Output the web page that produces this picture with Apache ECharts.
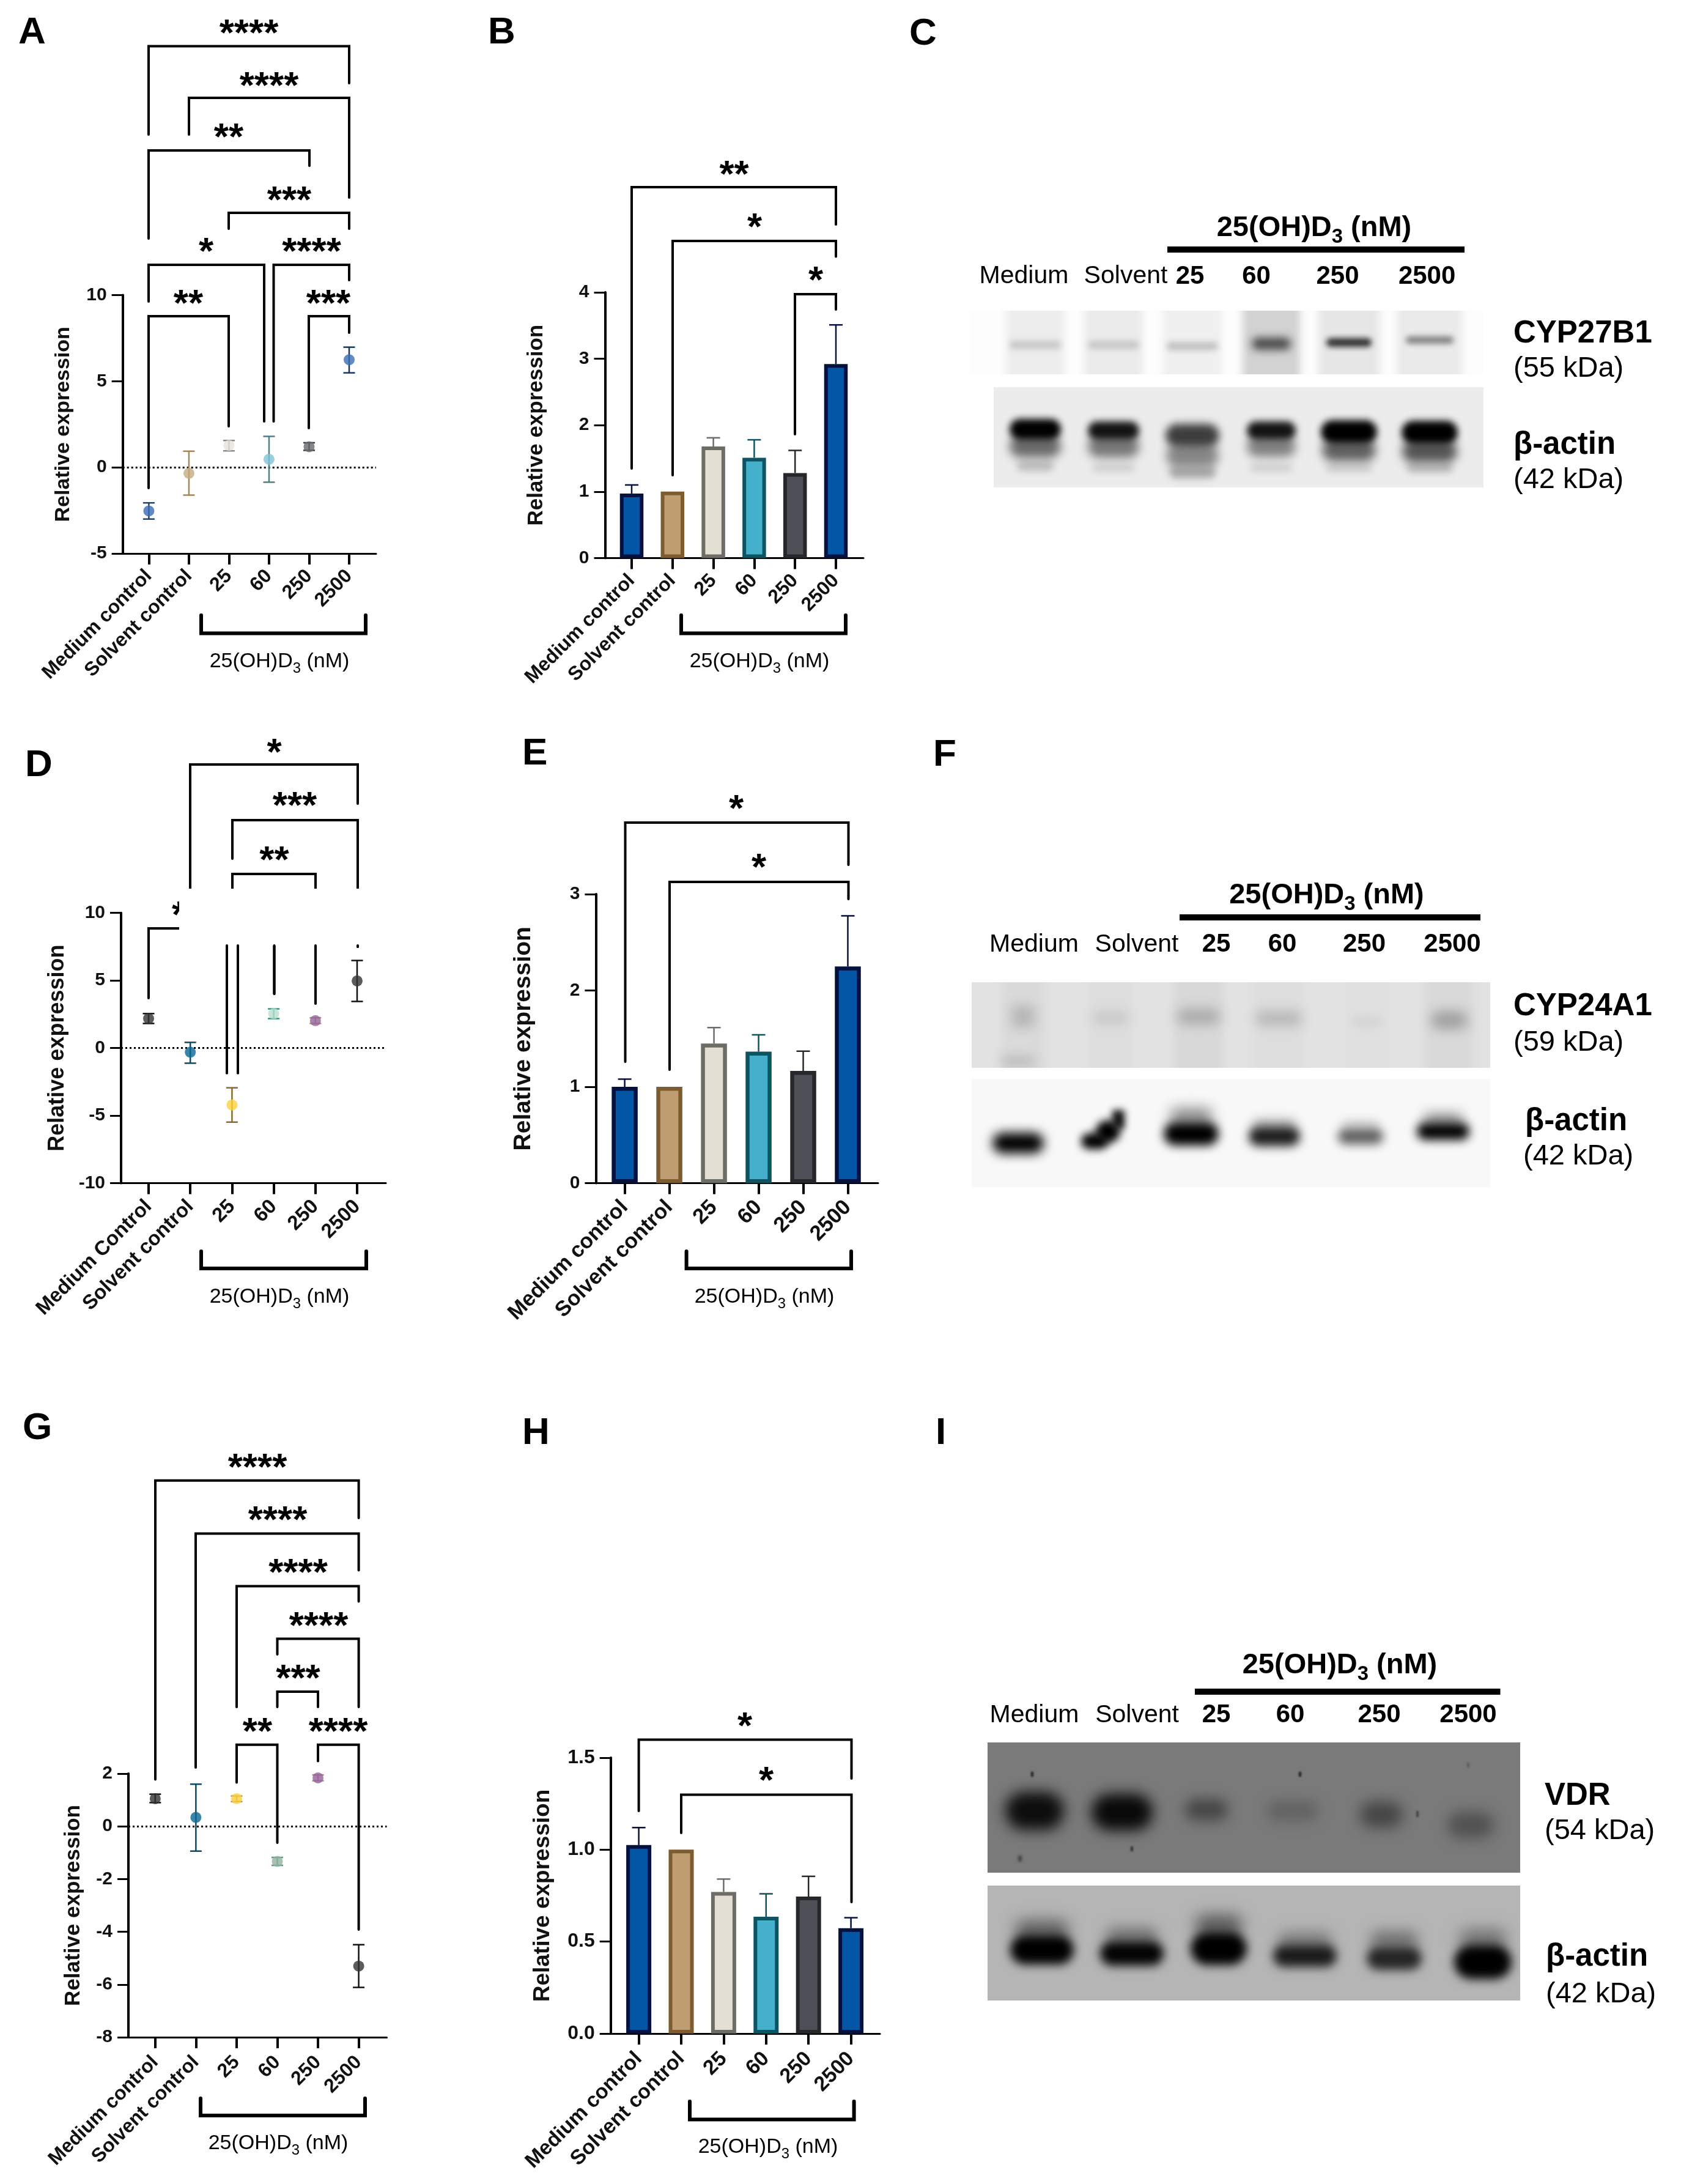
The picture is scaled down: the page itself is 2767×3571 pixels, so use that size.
<!DOCTYPE html>
<html>
<head>
<meta charset="utf-8">
<title>25(OH)D3 panels</title>
<script src="https://cdn.jsdelivr.net/npm/echarts@6/dist/echarts.min.js"></script>
<style>
  html, body { margin: 0; padding: 0; background: #fff; }
  #chart { width: 2767px; height: 3571px; }
</style>
</head>
<body>
<div id="chart"></div>
<script>
  var FONT = '"Liberation Sans", Arial, sans-serif';

  // chart values
  var categories = ['Medium control', 'Solvent control', '25', '60', '250', '2500'];
  var categoriesD = ['Medium Control', 'Solvent control', '25', '60', '250', '2500'];

  var pointsA = [-2.53, -0.34, 1.28, 0.47, 1.2, 6.25];
  var errHighA = [-2.06, 0.94, 1.56, 1.8, 1.43, 6.98];
  var errLowA = [-3.0, -1.61, 0.96, -0.86, 0.99, 5.49];

  var pointsD = [2.18, -0.3, -4.21, 2.55, 2.03, 4.97];
  var errHighD = [2.55, 0.42, -2.94, 2.9, 2.24, 6.48];
  var errLowD = [1.82, -1.12, -5.48, 2.18, 1.82, 3.45];

  var pointsG = [1.05, 0.34, 1.05, -1.33, 1.84, -5.3];
  var errHighG = [1.22, 1.6, 1.15, -1.18, 1.95, -4.49];
  var errLowG = [0.9, -0.94, 0.94, -1.48, 1.73, -6.11];

  var barsB = [0.97, 1.0, 1.68, 1.51, 1.28, 2.92];
  var errHighB = [1.1, null, 1.81, 1.78, 1.62, 3.51];

  var barsE = [1.0, 1.0, 1.45, 1.365, 1.165, 2.25];
  var errHighE = [1.08, null, 1.615, 1.54, 1.37, 2.775];

  var barsH = [1.025, 1.0, 0.77, 0.635, 0.745, 0.573];
  var errHighH = [1.12, null, 0.84, 0.76, 0.855, 0.63];

  var ticksA = { min: -5, max: 10, interval: 5 };
  var ticksB = { min: 0, max: 4, interval: 1 };
  var ticksD = { min: -10, max: 10, interval: 5 };
  var ticksE = { min: 0, max: 3, interval: 1 };
  var ticksG = { min: -8, max: 2, interval: 2 };
  var ticksH = { min: 0, max: 1.5, interval: 0.5 };

  // colours
  var barFill = ['#0355a5', '#c09e72', '#e3dfd3', '#45b0cb', '#4d5157', '#0355a5'];
  var barEdge = ['#051240', '#7d5c30', '#6e6c66', '#0e5361', '#25272a', '#051240'];
  var dotFillA = ['#3a6db5', '#c4ab7e', '#e5e2d8', '#7fc3d6', '#666a6e', '#3a6db5'];
  var dotEdgeA = ['#23406f', '#a08858', '#888888', '#4f7f88', '#3a3d40', '#1c3560'];
  var dotFillD = ['#333333', '#0a6796', '#fdd13a', '#b8dfca', '#9463a0', '#333333'];
  var dotEdgeD = ['#111111', '#0c4a64', '#8a6a2f', '#3a8f80', '#b09060', '#111111'];
  var dotFillG = ['#333333', '#0a6796', '#fdd13a', '#8fb3a0', '#9463a0', '#333333'];
  var dotEdgeG = ['#111111', '#0c4a64', '#b09060', '#6f9080', '#b09060', '#111111'];

  // panel frames in page pixels: axis x, axis end, top tick, bottom, first and last category
  var frames = [
    { id: 'A', kind: 'dot', x0: 200.7, x1: 615, top: 482.6, bottom: 905, c0: 243.4, c5: 571, nameX: 102, nameSize: 34, catSize: 32, catMargin: 32, cats: categories, vals: pointsA, hi: errHighA, lo: errLowA, ticks: ticksA, fill: dotFillA, edge: dotEdgeA },
    { id: 'B', kind: 'bar', x0: 989.5, x1: 1412, top: 478, bottom: 912.4, c0: 1033, c5: 1367, nameX: 876, nameSize: 35, catSize: 32, catMargin: 32, cats: categories, vals: barsB, hi: errHighB, ticks: ticksB, fill: barFill, edge: barEdge, barWidth: 38.5, border: 6 },
    { id: 'D', kind: 'dot', x0: 198, x1: 631, top: 1492.7, bottom: 1934.6, c0: 243, c5: 584, nameX: 92, nameSize: 36, catSize: 33, catMargin: 33, cats: categoriesD, vals: pointsD, hi: errHighD, lo: errLowD, ticks: ticksD, fill: dotFillD, edge: dotEdgeD },
    { id: 'E', kind: 'bar', x0: 974.4, x1: 1436, top: 1462, bottom: 1934.6, c0: 1021.6, c5: 1386.5, nameX: 854, nameSize: 39, catSize: 35, catMargin: 34, cats: categories, vals: barsE, hi: errHighE, ticks: ticksE, fill: barFill, edge: barEdge, barWidth: 42.5, border: 6.5 },
    { id: 'G', kind: 'dot', x0: 210, x1: 632.5, top: 2900, bottom: 3331, c0: 253.8, c5: 586.6, nameX: 119, nameSize: 35, catSize: 32, catMargin: 36, cats: categories, vals: pointsG, hi: errHighG, lo: errLowG, ticks: ticksG, fill: dotFillG, edge: dotEdgeG },
    { id: 'H', kind: 'bar', x0: 998.7, x1: 1439, top: 2874, bottom: 3325, c0: 1044.6, c5: 1391.6, nameX: 886, nameSize: 37, catSize: 34, catMargin: 36, cats: categories, vals: barsH, hi: errHighH, ticks: ticksH, fill: barFill, edge: barEdge, barWidth: 41, border: 6, decimals: 1, labelSize: 32 }
  ];

  // significance brackets: x1, x2, top, left end, right end, stars, star x, star y
  var brackets = [
    [243, 571, 75.5, 220, 136, '****', 407, 45.5],
    [309, 571, 160, 220, 323, '****', 440, 132],
    [243, 506, 246, 390, 271, '**', 374, 216],
    [374, 571, 348, 374, 374, '***', 473, 319],
    [243, 432, 433, 493, 689, '*', 337, 403],
    [447.5, 571, 433, 689, 458, '****', 509.5, 403],
    [243, 374, 517, 798, 697, '**', 308, 488],
    [505, 571, 517, 700, 544, '***', 537, 488],

    [1033, 1367, 306, 766, 367, '**', 1200.6, 277],
    [1100, 1367, 394, 777, 419.5, '*', 1234, 363],
    [1300, 1367, 481, 710, 506, '*', 1334, 449.6],

    [311, 585, 1250, 1453, 1314, '*', 448.5, 1221.5],
    [380, 585, 1341, 1404, 1453, '***', 482, 1308.6],
    [380, 516, 1429, 1453, 1453, '**', 448.5, 1397.6],

    [1022.5, 1387.5, 1345, 1736, 1414, '*', 1204, 1314],
    [1095, 1387.5, 1442, 1749, 1470, '*', 1241, 1410],

    [254, 586.6, 2420.8, 2909.6, 2482, '****', 421, 2391],
    [320, 586.6, 2507.5, 2890, 2567.5, '****', 454, 2476.7],
    [387, 586.6, 2593.4, 2791, 2618.6, '****', 487.5, 2563.4],
    [453.5, 586.6, 2679.4, 2705, 2791, '****', 521, 2650],
    [453.5, 520, 2766, 2791, 2791, '***', 487.5, 2736],
    [387, 453.5, 2852.8, 2914.4, 3013, '**', 421, 2823],
    [520, 586.6, 2852.8, 2879.6, 3155, '****', 553, 2823],

    [1044.6, 1392.5, 2844.4, 2961, 2908, '*', 1218, 2814],
    [1114, 1392.5, 2934.4, 2997, 3110, '*', 1253, 2903]
  ];

  // the cut-up bits of panel D
  var loosePathsD = [
    [[243, 1632], [243, 1518], [293, 1518]],
    [[371, 1546], [371, 1754.5]],
    [[389, 1546], [389, 1754.5]],
    [[448.5, 1546], [448.5, 1625]],
    [[516, 1546], [516, 1640.7]],
    [[585, 1546], [585, 1548]]
  ];

  // concentration brackets under the axes: x1, x2, y, end y, label x, label y
  var doseBrackets = [
    [329, 598, 1035.5, 1006, 457, 1082],
    [1114, 1383, 1035.5, 1006, 1242, 1082],
    [329, 599, 2074, 2046, 457, 2121],
    [1122.6, 1392, 2074, 2046, 1250, 2121],
    [328, 597, 3459, 3431, 455, 3505],
    [1128, 1396.6, 3465.5, 3436, 1256, 3511]
  ];

  var panelLetters = [
    ['A', 30, 71], ['B', 798, 71], ['C', 1487, 73],
    ['D', 41, 1269], ['E', 854, 1250], ['F', 1526, 1252],
    ['G', 37, 2353], ['H', 854, 2361], ['I', 1530, 2361]
  ];

  // blot headers: title x, title y, bar x1, bar x2, bar y, label y, lane label x's
  var blotHeads = [
    [2149, 373, 1909, 2395, 408, 452, [1674.5, 1841, 1946, 2054.6, 2187.5, 2333.6]],
    [2169.5, 1464, 1929, 2421, 1500, 1544.6, [1691, 1859, 1989, 2097, 2231, 2375]],
    [2191, 2723, 1954, 2453.5, 2766, 2804.5, [1691.5, 1859.6, 1989, 2110, 2255.5, 2401]]
  ];
  var laneNames = ['Medium', 'Solvent', '25', '60', '250', '2500'];

  // protein names beside the blots: text, x, y, bold
  var blotLabels = [
    ['CYP27B1', 2475, 546, true], ['(55 kDa)', 2475, 603, false],
    ['β-actin', 2475, 728, true], ['(42 kDa)', 2475, 785.5, false],
    ['CYP24A1', 2475, 1646, true], ['(59 kDa)', 2475, 1705, false],
    ['β-actin', 2494, 1834, true], ['(42 kDa)', 2491, 1891, false],
    ['VDR', 2526, 2937, true], ['(54 kDa)', 2526, 2994, false],
    ['β-actin', 2528, 3200, true], ['(42 kDa)', 2528, 3261, false]
  ];

  // blot pictures, upper then lower of each pair: x, y, w, h, background, soft shapes [cx, cy, w, h, colour, blur]
  var blots = [
    { x: 1587, y: 508, w: 839, h: 104, bg: '#fdfdfd', bands: [
      [1693, 560, 96, 160, '#ededed', 12], [1821, 560, 96, 160, '#ebebeb', 12], [1950, 560, 98, 160, '#f0f0f0', 12],
      [2079, 560, 94, 160, '#d2d2d2', 12], [2206, 560, 100, 160, '#e6e6e6', 12], [2338, 560, 108, 160, '#eaeaea', 12],
      [1693, 564, 84, 14, '#c8c8c8', 10], [1821, 564, 84, 14, '#c8c8c8', 10], [1950, 566, 84, 14, '#c2c2c2', 10],
      [2079, 562, 64, 20, '#4a4a4a', 14], [2206, 560, 74, 14, '#2e2e2e', 10], [2338, 556, 78, 12, '#808080', 10]
    ] },
    { x: 1625, y: 633, w: 801, h: 164, bg: '#ececec', bands: [
      [1693, 762, 60, 16, '#bbbbbb', 12], [1693, 730, 84, 36, '#6a6a6a', 16], [1693, 702, 84, 34, '#000000', 12],
      [1821, 765, 70, 12, '#cccccc', 12], [1821, 730, 84, 36, '#777777', 16], [1821, 704, 84, 30, '#141414', 12],
      [1950, 772, 76, 20, '#aaaaaa', 12], [1950, 745, 86, 40, '#888888', 16], [1950, 712, 88, 38, '#3e3e3e', 14],
      [2079, 765, 70, 12, '#cccccc', 12], [2079, 730, 80, 34, '#808080', 16], [2079, 704, 80, 30, '#141414', 12],
      [2206, 765, 76, 14, '#cccccc', 12], [2206, 736, 88, 36, '#606060', 16], [2206, 706, 92, 38, '#000000', 12],
      [2338, 765, 76, 16, '#bbbbbb', 12], [2338, 738, 90, 36, '#555555', 16], [2338, 707, 92, 38, '#000000', 12]
    ] },
    { x: 1589, y: 1606, w: 848, h: 140, bg: '#e2e2e2', bands: [
      [1673, 1675, 70, 190, '#dadada', 14], [1816, 1675, 70, 190, '#dddddd', 14], [1960, 1675, 80, 190, '#d8d8d8', 14],
      [2091, 1675, 80, 190, '#dddddd', 14], [2235, 1675, 70, 190, '#e0e0e0', 14], [2370, 1675, 80, 190, '#d9d9d9', 14],
      [1673, 1662, 36, 36, '#b5b5b5', 20], [1816, 1664, 60, 20, '#c8c8c8', 18], [1960, 1662, 70, 24, '#a8a8a8', 20],
      [2091, 1665, 76, 22, '#b4b4b4', 20], [2235, 1670, 50, 16, '#d2d2d2', 16], [2370, 1668, 60, 30, '#a0a0a0', 20],
      [1665, 1735, 56, 18, '#bcbcbc', 18]
    ] },
    { x: 1589, y: 1764, w: 848, h: 177, bg: '#f8f8f8', bands: [
      [1665, 1869, 84, 34, '#000000', 18],
      [1790, 1866, 44, 26, '#000000', 14], [1812, 1850, 40, 36, '#000000', 14], [1829, 1830, 20, 30, '#111111', 12],
      [1948, 1825, 70, 26, '#888888', 22], [1948, 1854, 90, 38, '#000000', 16],
      [2084, 1838, 70, 14, '#aaaaaa', 18], [2084, 1858, 84, 32, '#1e1e1e', 16],
      [2225, 1838, 60, 10, '#c4c4c4', 16], [2225, 1858, 74, 26, '#606060', 16],
      [2360, 1830, 64, 18, '#888888', 20], [2360, 1850, 86, 28, '#000000', 16]
    ] },
    { x: 1615, y: 2849, w: 871, h: 213, bg: '#7a7a7a', bands: [
      [1692, 2961, 96, 62, '#0e0e0e', 22], [1835, 2963, 100, 60, '#0a0a0a', 22], [1973, 2959, 70, 36, '#484848', 20],
      [2114, 2961, 84, 34, '#646464', 20], [2259, 2967, 70, 42, '#464646', 22], [2405, 2984, 76, 42, '#525252', 22],
      [1688, 2901, 4, 8, '#222222', 3], [2126, 2901, 4, 8, '#222222', 3], [1851, 3023, 4, 8, '#333333', 3],
      [1668, 3039, 6, 10, '#444444', 4], [2401, 2886, 3, 8, '#555555', 3], [2318, 2966, 4, 10, '#444444', 3]
    ] },
    { x: 1615, y: 3083, w: 871, h: 188, bg: '#b5b5b5', bands: [
      [1704, 3155, 88, 30, '#5e5e5e', 24], [1704, 3188, 104, 48, '#000000', 16],
      [1851, 3165, 84, 24, '#6c6c6c', 22], [1851, 3194, 104, 40, '#040404', 16],
      [1993, 3148, 78, 34, '#5a5a5a', 24], [1993, 3186, 92, 54, '#000000', 16],
      [2134, 3172, 88, 24, '#787878', 22], [2134, 3198, 104, 36, '#1c1c1c', 16],
      [2280, 3172, 78, 28, '#707070', 22], [2280, 3202, 90, 38, '#262626', 16],
      [2425, 3170, 78, 30, '#707070', 24], [2425, 3208, 94, 56, '#000000', 16]
    ] }
  ];

  var LAYER = 10;
  var AWAY = 6000;

  function pathEl(points, width) {
    return {
      type: 'polyline', silent: true, z: LAYER,
      shape: { points: points },
      style: { stroke: '#000', lineWidth: width, fill: null, lineJoin: 'miter', lineCap: 'round' }
    };
  }

  function textEl(text, x, y, font, align) {
    return {
      type: 'text', silent: true, z: LAYER,
      x: x, y: y,
      style: { text: text, font: font, fill: '#000', align: align || 'center', verticalAlign: 'middle' }
    };
  }

  function boxEl(x, y, w, h, colour) {
    return {
      type: 'rect', silent: true, z: LAYER,
      shape: { x: x, y: y, width: w, height: h },
      style: { fill: colour }
    };
  }

  // only the shadow lands in view, which gives a soft-edged band
  function softEl(b) {
    return {
      type: 'rect', silent: true, z: LAYER,
      shape: { x: b[0] - b[2] / 2 - AWAY, y: b[1] - b[3] / 2, width: b[2], height: b[3], r: b[3] < b[2] ? b[3] / 2 : 0 },
      style: { fill: '#000', shadowColor: b[4], shadowBlur: b[5], shadowOffsetX: AWAY }
    };
  }

  function doseTitle(x, y, size, bold) {
    var w = bold ? 'bold' : 'normal';
    return {
      type: 'text', silent: true, z: LAYER,
      x: x, y: y,
      style: {
        text: '{a|25(OH)D}{s|3}{a| (nM)}',
        align: 'center', verticalAlign: 'middle',
        rich: {
          a: { fontFamily: FONT, fontSize: size, fontWeight: w, fill: '#000', lineHeight: size * 1.35 },
          s: { fontFamily: FONT, fontSize: size * 0.7, fontWeight: w, fill: '#000', verticalAlign: 'bottom', lineHeight: size * 1.35 }
        }
      }
    };
  }

  function buildGraphics() {
    var els = [];
    blots.forEach(function (b, i) {
      var m = 16;
      // the lower blot of a pair paints over what the upper one leaves in the gap
      var topMask = i % 2 ? 8 : 60;
      els.push(boxEl(b.x, b.y, b.w, b.h, b.bg));
      b.bands.forEach(function (band) { els.push(softEl(band)); });
      els.push(boxEl(b.x - m, b.y - topMask, b.w + 2 * m, topMask, '#fff'));
      els.push(boxEl(b.x - m, b.y + b.h, b.w + 2 * m, 60, '#fff'));
      els.push(boxEl(b.x - m, b.y, m, b.h, '#fff'));
      els.push(boxEl(b.x + b.w, b.y, m, b.h, '#fff'));
    });
    blotHeads.forEach(function (h) {
      els.push(doseTitle(h[0], h[1], 47, true));
      els.push(boxEl(h[2], h[4] - 5, h[3] - h[2], 10, '#000'));
      h[6].forEach(function (x, i) {
        els.push(textEl(laneNames[i], x, h[5], (i < 2 ? '' : 'bold ') + (i < 2 ? '41px ' : '42px ') + FONT));
      });
    });
    blotLabels.forEach(function (l) {
      els.push(textEl(l[0], l[1], l[2], (l[3] ? 'bold 51px ' : '47px ') + FONT, 'left'));
    });
    brackets.forEach(function (b) {
      els.push(pathEl([[b[0], b[3]], [b[0], b[2]], [b[1], b[2]], [b[1], b[4]]], 4));
      els.push(textEl(b[5], b[6], b[7] + 11, 'bold 62px ' + FONT));
    });
    loosePathsD.forEach(function (p) { els.push(pathEl(p, 4)); });
    // half of a star shows at the edge of the white patch in panel D
    els.push(textEl('*', 293, 1499, 'bold 62px ' + FONT));
    els.push(boxEl(293, 1453, 300, 93, '#fff'));
    loosePathsD.slice(1).forEach(function (p) { els.push(pathEl(p, 4)); });
    doseBrackets.forEach(function (d) {
      els.push(pathEl([[d[0], d[3]], [d[0], d[2]], [d[1], d[2]], [d[1], d[3]]], 6));
      els.push(doseTitle(d[4], d[5], 34, false));
    });
    panelLetters.forEach(function (l) {
      var el = textEl(l[0], l[1], l[2], 'bold 62px ' + FONT, 'left');
      el.style.verticalAlign = 'bottom';
      el.y = l[2] + 14;
      els.push(el);
    });
    return els;
  }

  function errorSeries(f, index) {
    var rows = f.vals.map(function (v, i) {
      var hi = f.hi[i];
      return [i, hi, f.kind === 'bar' ? v : f.lo[i]];
    });
    return {
      type: 'custom',
      xAxisIndex: index, yAxisIndex: index,
      z: f.kind === 'bar' ? 1 : 3,
      silent: true,
      data: rows,
      encode: { x: 0, y: [1, 2] },
      renderItem: function (params, api) {
        var i = api.value(0);
        if (isNaN(api.value(1)) || rows[i][1] === null) {
          return null;
        }
        var hi = api.coord([i, api.value(1)]);
        var lo = api.coord([i, api.value(2)]);
        var cap = f.kind === 'bar' ? 11 : 9.5;
        var style = { stroke: f.edge[i], lineWidth: 2.5, fill: null };
        var parts = [
          { type: 'line', shape: { x1: hi[0], y1: hi[1], x2: lo[0], y2: lo[1] }, style: style },
          { type: 'line', shape: { x1: hi[0] - cap, y1: hi[1], x2: hi[0] + cap, y2: hi[1] }, style: style }
        ];
        if (f.kind !== 'bar') {
          parts.push({ type: 'line', shape: { x1: lo[0] - cap, y1: lo[1], x2: lo[0] + cap, y2: lo[1] }, style: style });
        }
        return { type: 'group', children: parts };
      }
    };
  }

  function mainSeries(f, index) {
    var rows = f.vals.map(function (v, i) {
      var item = { value: [i, v] };
      item.itemStyle = { color: f.fill[i] };
      if (f.kind === 'bar') {
        item.itemStyle.borderColor = f.edge[i];
        item.itemStyle.borderWidth = f.border;
      }
      return item;
    });
    if (f.kind === 'bar') {
      return { type: 'bar', xAxisIndex: index, yAxisIndex: index, data: rows, barWidth: f.barWidth, z: 2, silent: true };
    }
    return {
      type: 'scatter', xAxisIndex: index, yAxisIndex: index, data: rows, symbolSize: 18, z: 4, silent: true,
      markLine: {
        silent: true, symbol: 'none', label: { show: false }, z: 1,
        lineStyle: { color: '#000', type: [3, 4], width: 3 },
        data: [{ yAxis: 0 }]
      }
    };
  }

  var grids = [], xAxes = [], yAxes = [], series = [];
  frames.forEach(function (f, index) {
    var step = (f.c5 - f.c0) / 5;
    var ticks = f.ticks;
    var positions = f.cats.map(function (c, i) { return i; });
    grids.push({ left: f.x0, top: f.top, width: f.x1 - f.x0, height: f.bottom - f.top });
    xAxes.push({
      type: 'value',
      gridIndex: index,
      min: (f.x0 - f.c0) / step,
      max: (f.x1 - f.c0) / step,
      splitLine: { show: false },
      axisLine: { onZero: false, lineStyle: { color: '#000', width: 3 } },
      axisTick: { length: 18, customValues: positions, lineStyle: { color: '#000', width: 4 } },
      axisLabel: {
        customValues: positions,
        rotate: 45, margin: f.catMargin,
        color: '#111', fontFamily: FONT, fontWeight: 'bold', fontSize: f.catSize,
        formatter: function (v) { return f.cats[v]; }
      }
    });
    yAxes.push({
      type: 'value',
      gridIndex: index,
      min: ticks.min, max: ticks.max, interval: ticks.interval,
      name: 'Relative expression',
      nameLocation: 'middle',
      nameGap: f.x0 - f.nameX - f.nameSize * 0.55,
      nameTextStyle: { color: '#111', fontFamily: FONT, fontWeight: 'bold', fontSize: f.nameSize },
      splitLine: { show: false },
      axisLine: { show: true, onZero: false, lineStyle: { color: '#000', width: 4 } },
      axisTick: { show: true, length: 18, lineStyle: { color: '#000', width: 3 } },
      axisLabel: {
        margin: 26,
        color: '#111', fontFamily: FONT, fontWeight: 'bold', fontSize: f.labelSize || 30,
        formatter: function (v) { return f.decimals ? v.toFixed(f.decimals) : String(v); }
      }
    });
    series.push(errorSeries(f, index));
    series.push(mainSeries(f, index));
  });

  var myChart = echarts.init(document.getElementById('chart'), null, { renderer: 'canvas' });
  myChart.setOption({
    animation: false,
    backgroundColor: '#fff',
    grid: grids,
    xAxis: xAxes,
    yAxis: yAxes,
    series: series,
    graphic: { elements: buildGraphics() }
  });
</script>
</body>
</html>
